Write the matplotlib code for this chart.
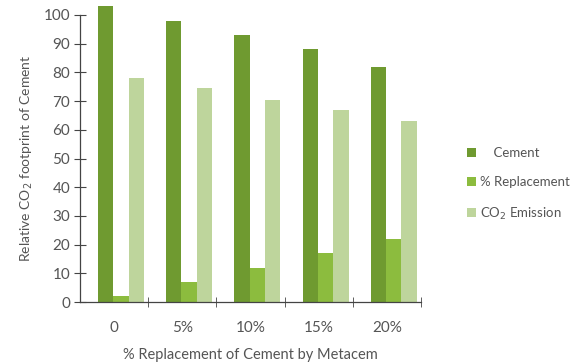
import numpy as np
import matplotlib.pyplot as plt

categories = ['0', '5%', '10%', '15%', '20%']
cement = [103, 98, 93, 88, 82]
replacement = [2, 7, 12, 17, 22]
co2_emission = [78, 74.5, 70.5, 67, 63]

plt.rcParams['font.family'] = ['Lato', 'DejaVu Sans']

fig = plt.figure(figsize=(5.85, 3.64), dpi=100)
ax = fig.add_axes([80 / 585, 1 - 302 / 364, 341 / 585, 287 / 364])

x = np.arange(len(categories))
w = 0.225
ax.bar(x - 0.125, cement, w, color='#6f9a30', label='    Cement', clip_on=False)
ax.bar(x + 0.1, replacement, w, color='#8cbc3e', label='% Replacement', clip_on=False)
ax.bar(x + 0.325, co2_emission, w, color='#bed59c', label='CO$_2$ Emission', clip_on=False)

ax.set_xlim(-0.5, len(categories) - 0.5)
ax.set_ylim(0, 100)
ax.set_yticks(range(0, 101, 10))
ax.set_xticks(x)
ax.set_xticklabels(categories)
ax.set_xticks(np.arange(0.5, len(categories), 1), minor=True)
ax.tick_params(axis='x', which='major', length=0, pad=14)
ax.tick_params(axis='x', which='minor', direction='inout', length=7, color='#444')
ax.tick_params(axis='y', direction='inout', length=8, color='#444', pad=3)
ax.tick_params(labelsize=11, labelcolor='#555')

for s in ['top', 'right']:
    ax.spines[s].set_visible(False)
for s in ['left', 'bottom']:
    ax.spines[s].set_color('#444')
    ax.spines[s].set_linewidth(0.9)

ax.set_xlabel('% Replacement of Cement by Metacem', fontsize=10.5, color='#555', labelpad=9)
ax.set_ylabel('Relative CO$_2$ footprint of Cement', fontsize=10, color='#555', labelpad=6)

leg = ax.legend(loc='center left', bbox_to_anchor=(1.1, 0.41), frameon=False,
                fontsize=9.5, handlelength=0.7, handleheight=0.7, handletextpad=0.3,
                labelspacing=1.3, labelcolor='#555')

fig.savefig('out.png', dpi=100)
